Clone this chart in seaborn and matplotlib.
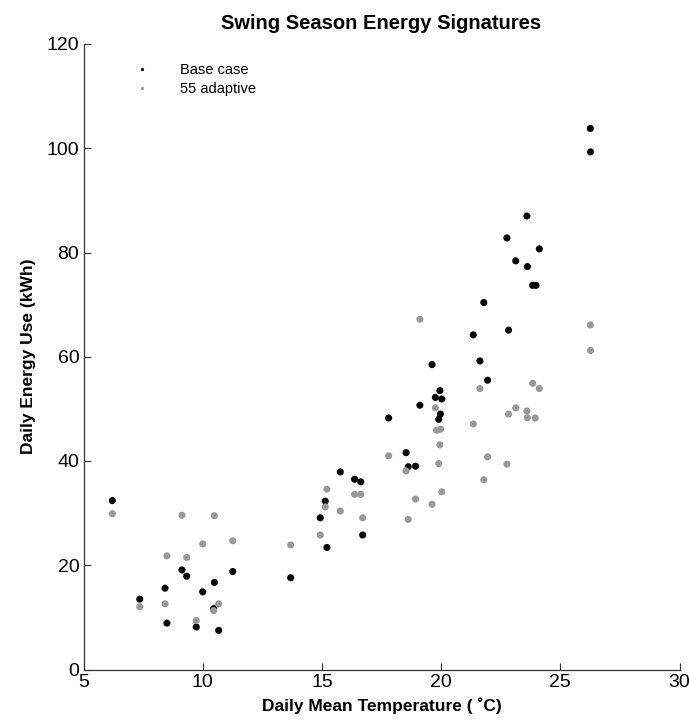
import matplotlib
matplotlib.use("Agg")
import matplotlib.pyplot as plt
import seaborn as sns
import pandas as pd

# ---- data ----
base_temp = [6.21, 7.36, 8.42, 8.50, 9.13, 9.33, 9.73, 10.0, 10.46, 10.49, 10.67, 11.26,
             13.69, 14.93, 15.14, 15.21, 15.77, 16.37, 16.63, 16.71, 17.80, 18.53, 18.62,
             18.93, 19.11, 19.62, 19.76, 19.90, 19.95, 19.97, 20.03, 21.35, 21.63, 21.79,
             21.95, 22.76, 22.83, 23.13, 23.60, 23.62, 23.84, 23.98, 24.12, 26.26, 26.27]
base_energy = [32.4, 13.5, 15.6, 8.9, 19.1, 17.9, 8.15, 14.9, 11.7, 16.7, 7.5, 18.8,
               17.6, 29.1, 32.3, 23.4, 37.9, 36.5, 36.0, 25.8, 48.25, 41.6, 38.9,
               39.0, 50.7, 58.5, 52.2, 48.0, 53.5, 49.0, 51.9, 64.2, 59.2, 70.4,
               55.5, 82.8, 65.1, 78.4, 87.0, 77.3, 73.7, 73.7, 80.7, 103.8, 99.3]

adapt_temp = [6.21, 7.36, 8.42, 8.50, 9.13, 9.33, 9.73, 10.0, 10.46, 10.49, 10.67, 11.26,
              13.69, 14.93, 15.14, 15.21, 15.77, 16.37, 16.63, 16.71, 17.80, 18.53, 18.62,
              18.93, 19.11, 19.62, 19.76, 19.81, 19.90, 19.95, 19.98, 20.03, 21.35, 21.63,
              21.79, 21.95, 22.76, 22.83, 23.13, 23.60, 23.62, 23.84, 23.95, 24.12, 26.26, 26.27]
adapt_energy = [29.9, 12.05, 12.6, 21.8, 29.6, 21.5, 9.4, 24.1, 11.3, 29.5, 12.6, 24.7,
                23.9, 25.8, 31.2, 34.6, 30.4, 33.6, 33.6, 29.1, 41.0, 38.1, 28.8,
                32.7, 67.2, 31.7, 50.2, 45.9, 39.5, 43.1, 46.1, 34.1, 47.1, 53.9,
                36.4, 40.8, 39.4, 49.0, 50.2, 49.6, 48.3, 54.9, 48.25, 53.9, 66.1, 61.2]

series_names = ["Base case", "55 adaptive"]
x_ticks = [5, 10, 15, 20, 25, 30]
y_ticks = [0, 20, 40, 60, 80, 100, 120]

df = pd.concat([
    pd.DataFrame({"temp": base_temp, "energy": base_energy, "case": series_names[0]}),
    pd.DataFrame({"temp": adapt_temp, "energy": adapt_energy, "case": series_names[1]}),
], ignore_index=True)

sns.set_style("white")
plt.rcParams["font.family"] = ["Liberation Sans", "DejaVu Sans"]
plt.rcParams["text.color"] = "black"
plt.rcParams["axes.labelcolor"] = "black"

fig = plt.figure(figsize=(6.89, 7.28), dpi=100)
ax = fig.add_axes([83.5 / 689, 1 - 669.5 / 728, 596 / 689, 625.5 / 728])

sns.scatterplot(data=df, x="temp", y="energy", hue="case", hue_order=series_names,
                palette={"Base case": "#000000", "55 adaptive": "#999999"},
                s=26, linewidth=0, ax=ax, zorder=3)

ax.set_xlim(5, 30)
ax.set_ylim(0, 120)
ax.set_xticks(x_ticks)
ax.set_yticks(y_ticks)
ax.tick_params(axis="both", direction="in", length=5, width=0.8, color="#333333",
               labelsize=14, labelcolor="black", pad=3,
               top=False, right=False, bottom=True, left=True)
for side in ["top", "right"]:
    ax.spines[side].set_visible(False)
for side in ["left", "bottom"]:
    ax.spines[side].set_color("#333333")
    ax.spines[side].set_linewidth(0.9)

ax.set_xlabel("Daily Mean Temperature ( \u02DAC)", fontsize=12.5, fontweight="bold", labelpad=5)
ax.set_ylabel("Daily Energy Use (kWh)", fontsize=12.5, fontweight="bold", labelpad=8)
ax.set_title("Swing Season Energy Signatures", fontsize=14.5, fontweight="bold", pad=11)

leg = ax.legend(loc="upper left", bbox_to_anchor=(0.051, 0.99), frameon=False,
                markerscale=0.45, fontsize=10.5, handletextpad=1.6, labelspacing=0.3,
                title=None)

fig.savefig("out.png", dpi=100)
